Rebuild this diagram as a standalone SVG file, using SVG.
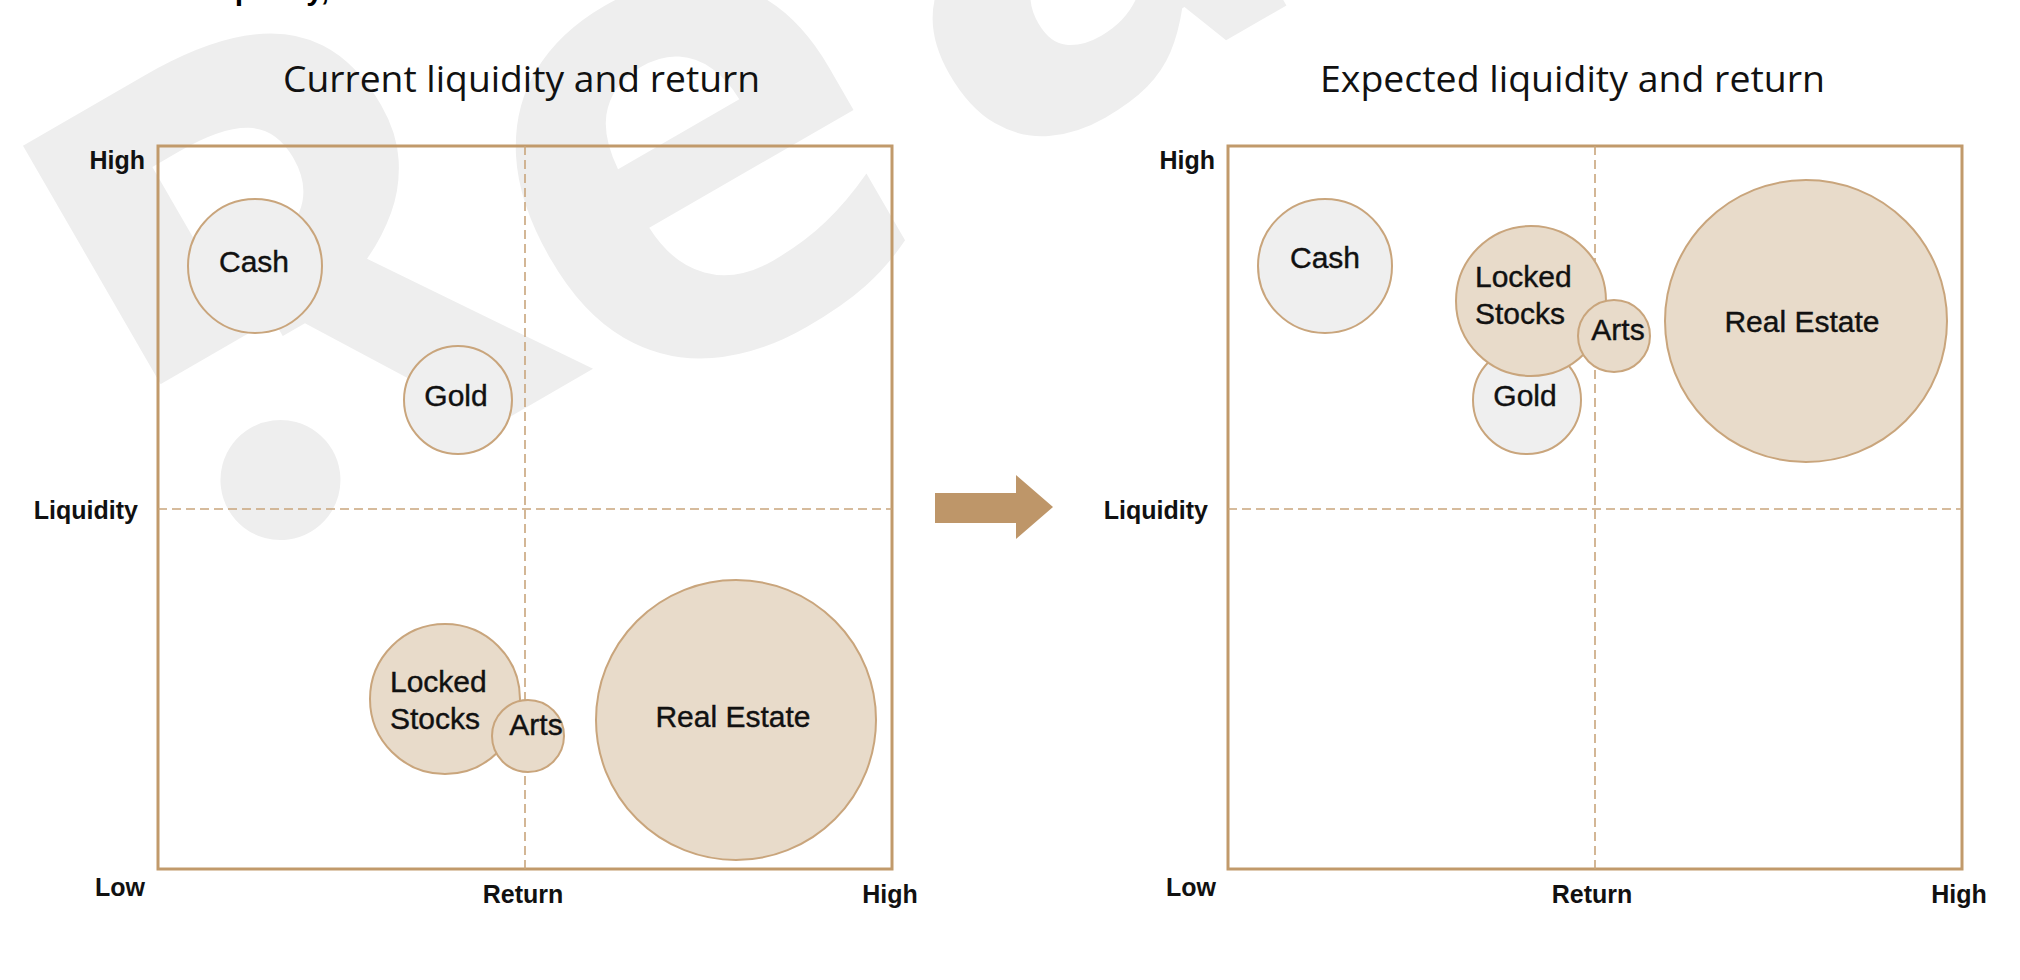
<svg xmlns="http://www.w3.org/2000/svg" width="2020" height="980" viewBox="0 0 2020 980">
  <style>
    .wm { font-family: "Open Sans", "DejaVu Sans", sans-serif; font-weight: 700; font-size: 670px; fill: #EEEEEE; }
    .wm-dot { fill: #EEEEEE; }
    .wm-cut { fill: #FFFFFF; }
    .frag { font-family: "Liberation Sans", Arial, sans-serif; font-weight: 700; font-size: 30px; fill: #000; }
    .title { font-family: "Open Sans", "Noto Sans", sans-serif; font-size: 37px; fill: #111; }
    .frame { fill: none; stroke: #C19A6B; stroke-width: 3; }
    .grid { fill: none; stroke: #C9A57C; stroke-width: 1.6; stroke-dasharray: 9 5; }
    .axis { font-family: "Liberation Sans", Arial, sans-serif; font-weight: 700; font-size: 25px; fill: #111; }
    .ax-end { text-anchor: end; }
    .ax-mid { text-anchor: middle; }
    .bub-g { fill: #EFEFEF; stroke: #C9A57C; stroke-width: 2; }
    .bub-t { fill: #E8DBCA; stroke: #C9A57C; stroke-width: 2; }
    .lbl { font-family: "Liberation Sans", Arial, sans-serif; font-size: 30px; fill: #111; stroke: #111; stroke-width: 0.4; }
    .mid { text-anchor: middle; }
    .arrow { fill: #BE9669; }
  </style>

  <g id="watermark" transform="translate(210,590) rotate(-30)">
    <text class="wm" x="0" y="0">R<tspan dx="-12" dy="64">e</tspan><tspan dx="44" dy="-32">a</tspan></text>
    <rect class="wm-cut" x="40" y="-203" width="150" height="215"/>
    <circle class="wm-dot" cx="116" cy="-60" r="60"/>
  </g>

  <text class="frag" x="208" y="0">liquidity,</text>

  <g id="chart-current">
    <text class="title" x="283" y="92" textLength="477" lengthAdjust="spacingAndGlyphs">Current liquidity and return</text>
    <rect class="frame" x="158" y="146" width="734" height="723"/>
    <line class="grid" x1="158" y1="509" x2="892" y2="509"/>
    <line class="grid" x1="525" y1="146" x2="525" y2="869"/>
    <text class="axis ax-end" x="145" y="169">High</text>
    <text class="axis ax-end" x="138" y="519">Liquidity</text>
    <text class="axis ax-end" x="145" y="896">Low</text>
    <text class="axis ax-mid" x="523" y="903">Return</text>
    <text class="axis ax-mid" x="890" y="903">High</text>
  </g>

  <g id="chart-expected">
    <text class="title" x="1320" y="92" textLength="505" lengthAdjust="spacingAndGlyphs">Expected liquidity and return</text>
    <rect class="frame" x="1228" y="146" width="734" height="723"/>
    <line class="grid" x1="1228" y1="509" x2="1962" y2="509"/>
    <line class="grid" x1="1595" y1="146" x2="1595" y2="869"/>
    <text class="axis ax-end" x="1215" y="169">High</text>
    <text class="axis ax-end" x="1208" y="519">Liquidity</text>
    <text class="axis ax-end" x="1216" y="896">Low</text>
    <text class="axis ax-mid" x="1592" y="903">Return</text>
    <text class="axis ax-mid" x="1959" y="903">High</text>
  </g>

  <!-- current chart nodes -->
  <g id="cur-cash">
    <circle class="bub-g" cx="255" cy="266" r="67"/>
    <text class="lbl mid" x="254" y="272">Cash</text>
  </g>
  <g id="cur-gold">
    <circle class="bub-g" cx="458" cy="400" r="54"/>
    <text class="lbl mid" x="456" y="406">Gold</text>
  </g>
  <g id="cur-locked-stocks">
    <circle class="bub-t" cx="445" cy="699" r="75"/>
    <text class="lbl" x="390" y="692">Locked</text>
    <text class="lbl" x="390" y="729">Stocks</text>
  </g>
  <g id="cur-arts">
    <circle class="bub-t" cx="528" cy="736" r="36"/>
    <text class="lbl mid" x="536" y="735">Arts</text>
  </g>
  <g id="cur-real-estate">
    <circle class="bub-t" cx="736" cy="720" r="140"/>
    <text class="lbl mid" x="733" y="727">Real Estate</text>
  </g>

  <!-- expected chart nodes -->
  <g id="exp-cash">
    <circle class="bub-g" cx="1325" cy="266" r="67"/>
    <text class="lbl mid" x="1325" y="268">Cash</text>
  </g>
  <g id="exp-gold">
    <circle class="bub-g" cx="1527" cy="400" r="54"/>
    <text class="lbl mid" x="1525" y="406">Gold</text>
  </g>
  <g id="exp-locked-stocks">
    <circle class="bub-t" cx="1531" cy="301" r="75"/>
    <text class="lbl" x="1475" y="287">Locked</text>
    <text class="lbl" x="1475" y="324">Stocks</text>
  </g>
  <g id="exp-arts">
    <circle class="bub-t" cx="1614" cy="336" r="36"/>
    <text class="lbl mid" x="1618" y="340">Arts</text>
  </g>
  <g id="exp-real-estate">
    <circle class="bub-t" cx="1806" cy="321" r="141"/>
    <text class="lbl mid" x="1802" y="332">Real Estate</text>
  </g>

  <g id="connectors">
    <polygon class="arrow" points="935,493 1016,493 1016,475 1053,507 1016,539 1016,523 935,523"/>
  </g>
</svg>
